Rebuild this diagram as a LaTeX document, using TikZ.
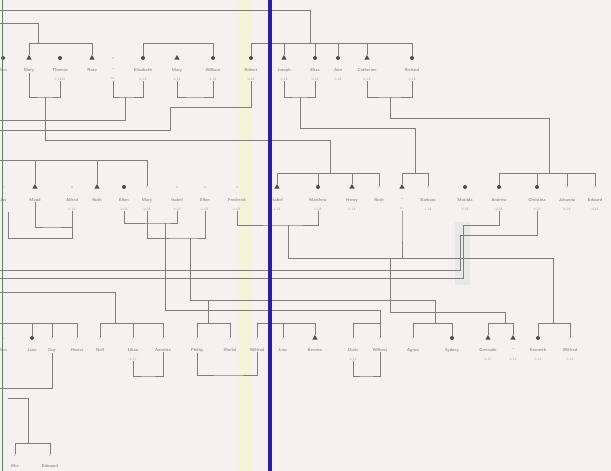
\documentclass[tikz,border=0pt]{standalone}
\usepackage{tikz}
\usetikzlibrary{shapes.geometric}

\definecolor{paper}{HTML}{F7F0F1}
\definecolor{inkgray}{HTML}{7E7E7E}
\definecolor{edgegreen}{HTML}{3C9A4C}
\definecolor{edgeblue}{HTML}{2A1CA6}
\definecolor{tape}{HTML}{F6F4D8}

\tikzset{
  ln/.style={draw=inkgray, line width=0.7pt},
  dot/.style={circle, fill=gray!60!black, inner sep=0pt, minimum size=4pt},
  tri/.style={regular polygon, regular polygon sides=3, fill=gray!60!black, inner sep=0pt, minimum size=6pt},
  pale/.style={circle, fill=gray!35, inner sep=0pt, minimum size=2.5pt},
  nm/.style={font=\fontsize{4.3}{5}\selectfont\sffamily\bfseries, text=gray!85, inner sep=0.5pt},
  sub/.style={font=\fontsize{3.6}{4}\selectfont\sffamily, text=gray!65, inner sep=0.5pt},
}

\begin{document}
\begin{tikzpicture}[x=1pt,y=-1pt]
\fill[paper] (0,0) rectangle (611,471);
\useasboundingbox (0,0) rectangle (611,471);
\fill[tape] (238,0) rectangle (252,471);
\fill[gray!18] (455,222) rectangle (470,285);

% first row
\node[dot]  (r1a) at (3,58) {};
\node[tri]  (r1b) at (29,58) {};
\node[dot]  (r1c) at (60,58) {};
\node[tri]  (r1d) at (92,58) {};
\node[pale] (r1e) at (113,58) {};
\node[dot]  (r1f) at (143,58) {};
\node[tri]  (r1g) at (177,58) {};
\node[dot]  (r1h) at (213,58) {};
\node[dot]  (r1i) at (251,58) {};
\node[tri]  (r1j) at (284,58) {};
\node[dot]  (r1k) at (315,58) {};
\node[dot]  (r1l) at (338,58) {};
\node[tri]  (r1m) at (367,58) {};
\node[dot]  (r1n) at (412,58) {};
\node[nm] (l1a) at (3,70) {Ann};
\node[nm] (l1b) at (29,70) {Mary};
\node[nm] (l1c) at (60,70) {Thomas};
\node[sub] (s1c) at (60,79) {b.1812};
\node[nm] (l1d) at (92,70) {Rose};
\node[nm] (l1e) at (113,70) {--};
\node[sub] (s1e) at (113,79) {m.};
\node[nm] (l1f) at (143,70) {Elizabeth};
\node[sub] (s1f) at (143,79) {b.18};
\node[nm] (l1g) at (177,70) {Mary};
\node[sub] (s1g) at (177,79) {b.18};
\node[nm] (l1h) at (213,70) {William};
\node[sub] (s1h) at (213,79) {b.18};
\node[nm] (l1i) at (251,70) {Robert};
\node[sub] (s1i) at (251,79) {b.18};
\node[nm] (l1j) at (284,70) {Joseph};
\node[sub] (s1j) at (284,79) {b.18};
\node[nm] (l1k) at (315,70) {Eliza};
\node[sub] (s1k) at (315,79) {b.18};
\node[nm] (l1l) at (338,70) {Ann};
\node[sub] (s1l) at (338,79) {b.18};
\node[nm] (l1m) at (367,70) {Catherine};
\node[sub] (s1m) at (367,79) {b.18};
\node[nm] (l1n) at (412,70) {Richard};
\node[sub] (s1n) at (412,79) {b.18};

% second row
\node[pale] (r2a) at (3,187) {};
\node[tri]  (r2b) at (35,187) {};
\node[pale] (r2c) at (72,187) {};
\node[tri]  (r2d) at (97,187) {};
\node[dot]  (r2e) at (124,187) {};
\node[pale] (r2f) at (147,187) {};
\node[pale] (r2g) at (177,187) {};
\node[pale] (r2h) at (205,187) {};
\node[pale] (r2i) at (237,187) {};
\node[tri]  (r2j) at (277,187) {};
\node[dot]  (r2k) at (318,187) {};
\node[tri]  (r2l) at (352,187) {};
\node[pale] (r2m) at (379,187) {};
\node[tri]  (r2n) at (402,187) {};
\node[pale] (r2o) at (428,187) {};
\node[dot]  (r2p) at (465,187) {};
\node[dot]  (r2q) at (499,187) {};
\node[dot]  (r2r) at (537,187) {};
\node[pale] (r2s) at (567,187) {};
\node[pale] (r2t) at (595,187) {};
\node[nm] (l2a) at (3,200) {Jas};
\node[nm] (l2b) at (35,200) {Maud};
\node[nm] (l2c) at (72,200) {Alfred};
\node[sub] (s2c) at (72,209) {b.18};
\node[nm] (l2d) at (97,200) {Ruth};
\node[nm] (l2e) at (124,200) {Ellen};
\node[sub] (s2e) at (124,209) {b.18};
\node[nm] (l2f) at (147,200) {Mary};
\node[sub] (s2f) at (147,209) {b.18};
\node[nm] (l2g) at (177,200) {Isabel};
\node[sub] (s2g) at (177,209) {b.18};
\node[nm] (l2h) at (205,200) {Ellen};
\node[sub] (s2h) at (205,209) {b.18};
\node[nm] (l2i) at (237,200) {Frederick};
\node[sub] (s2i) at (237,209) {b.18};
\node[nm] (l2j) at (277,200) {Isabel};
\node[sub] (s2j) at (277,209) {b.18};
\node[nm] (l2k) at (318,200) {Matthew};
\node[sub] (s2k) at (318,209) {b.18};
\node[nm] (l2l) at (352,200) {Henry};
\node[sub] (s2l) at (352,209) {b.18};
\node[nm] (l2m) at (379,200) {Ruth};
\node[nm] (l2n) at (402,200) {--};
\node[sub] (s2n) at (402,209) {m.};
\node[nm] (l2o) at (428,200) {Barbara};
\node[sub] (s2o) at (428,209) {b.18};
\node[nm] (l2p) at (465,200) {Matilda};
\node[sub] (s2p) at (465,209) {b.18};
\node[nm] (l2q) at (499,200) {Andrew};
\node[sub] (s2q) at (499,209) {b.18};
\node[nm] (l2r) at (537,200) {Christina};
\node[sub] (s2r) at (537,209) {b.18};
\node[nm] (l2s) at (567,200) {Johanna};
\node[sub] (s2s) at (567,209) {b.18};
\node[nm] (l2t) at (595,200) {Edward};
\node[sub] (s2t) at (595,209) {b.18};

% third row
\node[pale] (r3a) at (3,338) {};
\node[dot]  (r3b) at (32,338) {};
\node[pale] (r3c) at (52,338) {};
\node[pale] (r3d) at (77,338) {};
\node[pale] (r3e) at (100,338) {};
\node[pale] (r3f) at (133,338) {};
\node[pale] (r3g) at (163,338) {};
\node[pale] (r3h) at (197,338) {};
\node[pale] (r3i) at (230,338) {};
\node[pale] (r3j) at (257,338) {};
\node[pale] (r3k) at (283,338) {};
\node[tri]  (r3l) at (315,338) {};
\node[pale] (r3m) at (353,338) {};
\node[pale] (r3n) at (380,338) {};
\node[pale] (r3o) at (413,338) {};
\node[dot]  (r3p) at (452,338) {};
\node[tri]  (r3q) at (488,338) {};
\node[tri]  (r3r) at (513,338) {};
\node[dot]  (r3s) at (538,338) {};
\node[pale] (r3t) at (570,338) {};
\node[nm] (l3a) at (3,350) {Ann};
\node[nm] (l3b) at (32,350) {Jane};
\node[nm] (l3c) at (52,350) {Guy};
\node[nm] (l3d) at (77,350) {Hester};
\node[nm] (l3e) at (100,350) {Nell};
\node[nm] (l3f) at (133,350) {Lilian};
\node[sub] (s3f) at (133,359) {b.19};
\node[nm] (l3g) at (163,350) {Annette};
\node[nm] (l3h) at (197,350) {Phillip};
\node[nm] (l3i) at (230,350) {Muriel};
\node[nm] (l3j) at (257,350) {Wilfred};
\node[nm] (l3k) at (283,350) {Lise};
\node[nm] (l3l) at (315,350) {Bernice};
\node[nm] (l3m) at (353,350) {Doris};
\node[sub] (s3m) at (353,359) {b.19};
\node[nm] (l3n) at (380,350) {Wilbert};
\node[nm] (l3o) at (413,350) {Agnes};
\node[nm] (l3p) at (452,350) {Sydney};
\node[nm] (l3q) at (488,350) {Gertrude};
\node[sub] (s3q) at (488,359) {b.19};
\node[nm] (l3r) at (513,350) {--};
\node[sub] (s3r) at (513,359) {b.19};
\node[nm] (l3s) at (538,350) {Kenneth};
\node[sub] (s3s) at (538,359) {b.19};
\node[nm] (l3t) at (570,350) {Wilfred};
\node[sub] (s3t) at (570,359) {b.19};

% fourth row
\node[pale] (r4a) at (15,455) {};
\node[pale] (r4b) at (50,455) {};
\node[nm] (l4a) at (15,466) {Mrs};
\node[nm] (l4b) at (50,466) {Edmund};

% joins above first row
\coordinate (jA) at (310,43);
\coordinate (jB) at (38,43);
\coordinate (jC) at (178,43);
\draw[ln] (0,10) -| (jA);
\draw[ln] (r1i.north) |- (r1n.north |- jA) -- (r1n.north);
\draw[ln] (r1j.north) -- (r1j.north |- jA) (r1k.north) -- (r1k.north |- jA)
          (r1l.north) -- (r1l.north |- jA) (r1m.north) -- (r1m.north |- jA);
\draw[ln] (0,23) -| (jB);
\draw[ln] (r1b.north) |- (r1d.north |- jB) -- (r1d.north);
\draw[ln] (r1f.north) |- (r1h.north |- jC) -- (r1h.north);

% joins below first row
\coordinate (k1) at (45,97);
\coordinate (k2) at (125,97);
\coordinate (k3) at (195,97);
\coordinate (k4) at (300,97);
\coordinate (k5) at (390,97);
\coordinate (jD) at (330,173);
\coordinate (jE) at (415,173);
\coordinate (jF) at (549,173);
\draw[ln] (l1b.south) |- (k1) -| (s1c.south);
\draw[ln] (k1) -- (45,140) -| (jD);
\draw[ln] (s1e.south) |- (k2) -| (s1f.south);
\draw[ln] (k2) |- (0,120);
\draw[ln] (s1g.south) |- (k3) -| (s1h.south);
\draw[ln] (s1i.south) |- (170,107) -- (170,130) -- (0,130);
\draw[ln] (s1j.south) |- (k4) -| (s1k.south);
\draw[ln] (k4) -- (300,128) -| (jE);
\draw[ln] (s1m.south) |- (k5) -| (s1n.south);
\draw[ln] (k5) -- (390,118) -| (jF);

% joins above second row
\coordinate (jG) at (0,160);
\draw[ln] (jG) -| (r2f.north);
\draw[ln] (r2b.north) -- (r2b.north |- jG) (r2d.north) -- (r2d.north |- jG);
\draw[ln] (r2j.north) |- (r2m.north |- jD) -- (r2m.north);
\draw[ln] (r2k.north) -- (r2k.north |- jD) (r2l.north) -- (r2l.north |- jD);
\draw[ln] (r2n.north) |- (r2o.north |- jE) -- (r2o.north);
\draw[ln] (r2q.north) |- (r2t.north |- jF) -- (r2t.north);
\draw[ln] (r2r.north) -- (r2r.north |- jF) (r2s.north) -- (r2s.north |- jF);

% joins below second row
\coordinate (k6) at (50,227);
\coordinate (k7) at (165,223);
\coordinate (k8) at (190,238);
\coordinate (k9) at (288,225);
\draw[ln] (l2b.south) |- (k6) -| (s2c.south);
\draw[ln] (72,227) -- (72,238) -| (8,212);
\draw[ln] (s2e.south) |- (k7) -| (s2g.south);
\draw[ln] (k7) |- (380,310) -- (r3n.north);
\draw[ln] (s2f.south) |- (k8) -| (s2h.south);
\draw[ln] (k8) |- (435,300) -- (435,323);
\draw[ln] (208,300) -- (208,323);
\draw[ln] (0,270) -| (460,235) -| (s2r.south);
\draw[ln] (0,278) -| (463,225) -| (s2q.south);
\draw[ln] (0,292) -| (115,323);
\draw[ln] (s2i.south) |- (k9) -| (s2k.south);
\draw[ln] (k9) |- (553,258) -- (553,323);
\draw[ln] (s2n.south) -- (s2n.south |- k9) -- (402,258);
\draw[ln] (390,258) |- (505,312) -- (505,323);

% joins above third row
\coordinate (jR) at (0,323);
\draw[ln] (jR) -| (r3d.north);
\draw[ln] (r3b.north) -- (r3b.north |- jR) (r3c.north) -- (r3c.north |- jR);
\draw[ln] (r3e.north) |- (r3g.north |- jR) -- (r3g.north);
\draw[ln] (r3f.north) -- (r3f.north |- jR);
\draw[ln] (r3h.north) |- (r3i.north |- jR) -- (r3i.north);
\draw[ln] (r3j.north) |- (r3l.north |- jR) -- (r3l.north);
\draw[ln] (r3k.north) -- (r3k.north |- jR);
\draw[ln] (r3m.north) |- (r3n.north |- jR);
\draw[ln] (r3o.north) |- (r3p.north |- jR) -- (r3p.north);
\draw[ln] (r3q.north) |- (r3r.north |- jR) -- (r3r.north);
\draw[ln] (r3s.north) |- (r3t.north |- jR) -- (r3t.north);

% joins below third row
\draw[ln] (l3c.south) |- (0,388);
\draw[ln] (s3f.south) |- (148,376) -| (l3g.south);
\draw[ln] (l3h.south) |- (230,375) -| (l3j.south);
\draw[ln] (s3m.south) |- (366,376) -| (l3n.south);
\draw[ln] (8,398) -| (28,443);
\draw[ln] (r4a.north) |- (r4b.north |- 0,443) -- (r4b.north);

% sheet edges
\draw[edgegreen, line width=1.8pt] (2.5,0) -- (2.5,471);
\draw[edgeblue, line width=3.5pt] (270,0) -- (270,471);
\end{tikzpicture}
\end{document}
